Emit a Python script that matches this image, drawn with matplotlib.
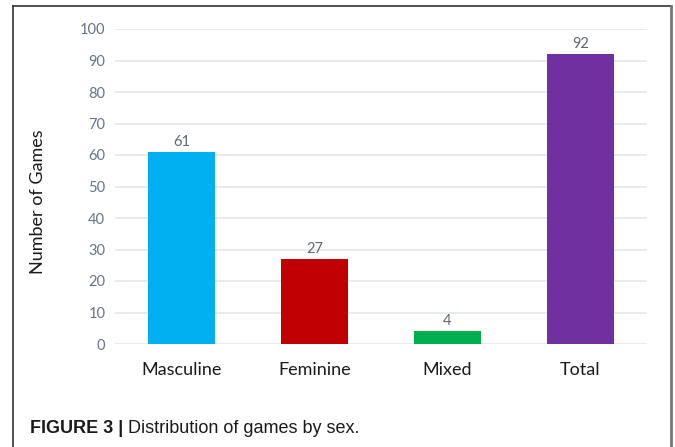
import matplotlib
matplotlib.use("Agg")
import matplotlib.pyplot as plt
from matplotlib.lines import Line2D
from matplotlib import font_manager

categories = ["Masculine", "Feminine", "Mixed", "Total"]
values = [61, 27, 4, 92]
colors = ["#00b0f0", "#c00000", "#00b050", "#7030a0"]
yticks = [0, 10, 20, 30, 40, 50, 60, 70, 80, 90, 100]

W, H = 675, 447
fig = plt.figure(figsize=(W / 100, H / 100), dpi=100)

def fx(px):
    return px / W

def fy(py):
    return 1 - py / H

ax = fig.add_axes([fx(115), fy(344), fx(647) - fx(115), fy(29) - fy(344)])
x = list(range(len(categories)))
bars = ax.bar(x, values, width=0.5, color=colors, zorder=3)
ax.set_xlim(-0.5, len(categories) - 0.5)
ax.set_ylim(0, 100)
ax.set_yticks(yticks)
ax.set_xticks(x)
ax.set_xticklabels(categories, fontsize=13, family="Lato", color="#1a1a1a")
ax.set_yticklabels([str(t) for t in yticks], fontsize=10.5, family="Lato", color="#6a7384")
ax.tick_params(axis="both", length=0)
ax.tick_params(axis="x", pad=13)
ax.tick_params(axis="y", pad=7)
ax.grid(axis="y", color="#e3e6ee", linewidth=1.2, zorder=0)
for s in ax.spines.values():
    s.set_visible(False)
for b, v in zip(bars, values):
    ax.text(b.get_x() + b.get_width() / 2, v + 1.0, str(v), ha="center", va="bottom",
            fontsize=10.5, family="Lato", color="#5e6676")

fig.text(fx(38), fy(202), "Number of Games", rotation=90, ha="center", va="center",
         fontsize=13, family="Lato", color="#1a1a1a")

# border
fig.add_artist(Line2D([fx(13), fx(13)], [0, fy(6)], color="#333333", linewidth=1.2))
fig.add_artist(Line2D([fx(13), fx(671)], [fy(6), fy(6)], color="#333333", linewidth=1.2))
fig.add_artist(Line2D([fx(671), fx(671)], [0, fy(6)], color="#777777", linewidth=2.0))

avail = {f.name for f in font_manager.fontManager.ttflist}
cap_family = "Liberation Sans Narrow" if "Liberation Sans Narrow" in avail else "Liberation Sans"
t1 = fig.text(fx(30), fy(433), "FIGURE 3 | ", fontsize=13, fontweight="bold",
              family=cap_family, color="#1a1a1a", ha="left", va="baseline")
fig.canvas.draw()
bb = t1.get_window_extent()
fig.text(bb.x1 / W, fy(433), "Distribution of games by sex.", fontsize=13,
         family=cap_family, color="#1a1a1a", ha="left", va="baseline")

fig.savefig("out.png", dpi=100)
